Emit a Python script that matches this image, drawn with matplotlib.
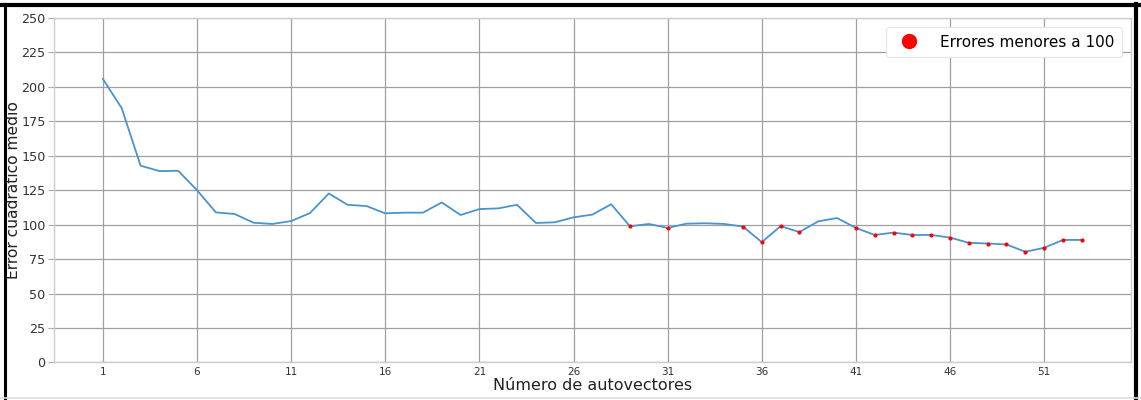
import numpy as np
import matplotlib
matplotlib.use("Agg")
import matplotlib.pyplot as plt
from matplotlib.lines import Line2D

# Mean squared error by number of eigenvectors used
n_autovectores = list(range(1, 54))
error_medio = [205.7, 184.5, 142.8, 138.9, 139.1, 125.0, 108.9, 107.7, 101.4, 100.5,
               102.6, 108.4, 122.6, 114.4, 113.5, 108.2, 108.7, 108.7, 116.1, 107.0,
               111.3, 111.8, 114.4, 101.2, 101.7, 105.3, 107.3, 114.8, 98.8, 100.5,
               97.6, 100.7, 101.0, 100.5, 98.6, 87.3, 98.9, 94.6, 102.4, 104.8,
               97.6, 92.5, 94.2, 92.5, 92.5, 90.6, 86.8, 86.3, 85.6, 80.3,
               83.2, 88.9, 88.9]
umbral = 100
y_ticks = [0, 25, 50, 75, 100, 125, 150, 175, 200, 225, 250]
x_ticks = list(range(1, 54, 5))

x = np.array(n_autovectores)
y = np.array(error_medio)
bajo = y < umbral

fig = plt.figure(figsize=(11.41, 4.0), dpi=100)
ax = fig.add_axes([0.0473, 0.094, 0.9437, 0.861])

ax.plot(x, y, color="#4a93cc", lw=1.3, zorder=3)
ax.scatter(x[bajo], y[bajo], s=4, color="red", zorder=4)

ax.set_xlim(-1.6, 55.6)
ax.set_ylim(0, 250)
ax.set_yticks(y_ticks)
ax.set_xticks(x_ticks)
ax.tick_params(axis="y", labelsize=9.2, colors="#333333", length=4, color="#aaaaaa", pad=2)
ax.tick_params(axis="x", labelsize=7.5, colors="#333333", length=0, pad=3)
ax.grid(True, color="#a0a0a0", lw=0.9)
ax.set_axisbelow(True)
for s in ax.spines.values():
    s.set_color("#cccccc")
    s.set_linewidth(1.0)

ax.set_xlabel("Número de autovectores", fontsize=11.5, color="#222222", labelpad=1)
ax.set_ylabel("Error cuadrático medio", fontsize=11.2, color="#222222")
ax.yaxis.set_label_coords(-0.031, 0.5)

handle = Line2D([], [], ls="none", marker="o", markersize=10, color="red")
leg = ax.legend([handle], ["Errores menores a %d" % umbral], loc="upper right",
                fontsize=11, frameon=True, handletextpad=1.0, borderpad=0.5,
                borderaxespad=0.6, framealpha=1.0)
leg.get_frame().set_edgecolor("#e6e6e6")
leg.get_frame().set_linewidth(0.8)

# thick frame around the figure
fig.add_artist(Line2D([0.004, 0.004], [0.0, 0.99], transform=fig.transFigure,
                      color="black", lw=2.2))
fig.add_artist(Line2D([0.0, 1.0], [0.987, 0.987], transform=fig.transFigure,
                      color="black", lw=3.0))
fig.add_artist(Line2D([0.996, 0.996], [0.0, 0.99], transform=fig.transFigure,
                      color="black", lw=3.0))
fig.add_artist(Line2D([0.0, 1.0], [0.006, 0.006], transform=fig.transFigure,
                      color="#dddddd", lw=1.2))

fig.savefig("out.png", dpi=100)
